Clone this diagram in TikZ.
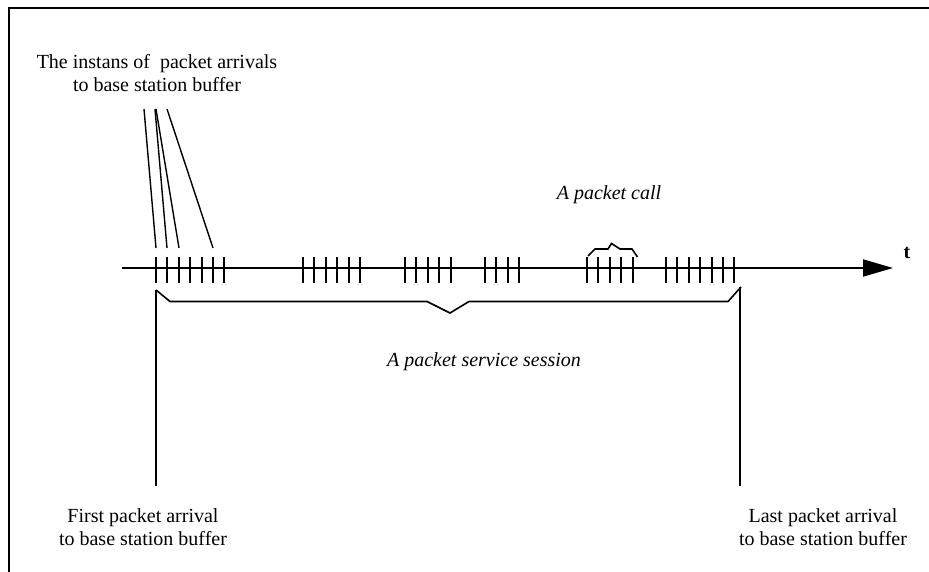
\documentclass[tikz,border=0pt]{standalone}
\usepackage{fontspec}
\setmainfont{Liberation Serif}
\usetikzlibrary{arrows.meta}

\begin{document}
\begin{tikzpicture}[x=1pt,y=-1pt,
    texto/.style={font=\fontsize{20}{23}\selectfont, align=center, inner sep=0pt},
    marca/.style={line width=2pt},
    chave/.style={line width=1.6pt, line join=miter},
    guia/.style={line width=1.4pt}]
            \useasboundingbox (0,0) rectangle (929,572);

            % Moldura (so topo e lado esquerdo)
            \draw[line width=2pt] (929,8) -- (9,8) -- (9,572);

            % Eixo do tempo
            \coordinate (inicio) at (122,268);
            \coordinate (fim) at (893,268);
            \draw[line width=2pt, -{Triangle[length=30pt,width=17pt]}] (inicio) -- (fim);
            \node[font=\fontsize{20}{23}\selectfont\bfseries] (t) at (907,253) {t};

            % Chegadas dos pacotes (grupos de marcas)
            \foreach \s/\n in {156/7,303/6,405/5,485/4,587/5,666/7}
                \foreach \k in {1,...,\n}
                    \draw[marca] ({\s+(\k-1)*11.4},257) -- ++(0,26);

            % Texto de cima e linhas guia
            \node[texto] (arrivals) at (157,73) {The instans of \ packet arrivals\\to base station buffer};
            \coordinate (g1) at (144,109);
            \coordinate (g2) at (155,109);
            \coordinate (g3) at (156,109);
            \coordinate (g4) at (167,109);
            \coordinate (p1) at (156,248);
            \coordinate (p2) at (167,248);
            \coordinate (p3) at (179,248);
            \coordinate (p4) at (213,248);
            \draw[guia] (g1) -- (p1);
            \draw[guia] (g2) -- (p2);
            \draw[guia] (g3) -- (p3);
            \draw[guia] (g4) -- (p4);

            % Chave da chamada de pacotes
            \draw[chave] (588,256) -- (595,249) -- (608,249) -- (611.5,243.5)
                -- (620,249) -- (632,249) -- (637.5,257);
            \node[texto, font=\fontsize{20}{23}\selectfont\itshape] (call) at (609,195) {A packet call};

            % Chave da sessao de servico
            \coordinate (s1) at (156,290);
            \coordinate (s2) at (741,287);
            \draw[chave] (s1) -- (170,301.5) -- (427,301.5) -- (450,313)
                -- (469,301.5) -- (728,301.5) -- (s2);
            \node[texto, font=\fontsize{20}{23}\selectfont\itshape] (session) at (484,362) {A packet service session};

            % Primeira e ultima chegada
            \node[texto] (first) at (143,527) {First packet arrival\\to base station buffer};
            \node[texto] (last) at (823,527) {Last packet arrival\\to base station buffer};
            \coordinate (f1) at (156,486);
            \coordinate (l0) at (740,287);
            \coordinate (l1) at (740,486);
            \draw[marca] (s1) -- (f1);
            \draw[marca] (l0) -- (l1);
        \end{tikzpicture}
\end{document}
